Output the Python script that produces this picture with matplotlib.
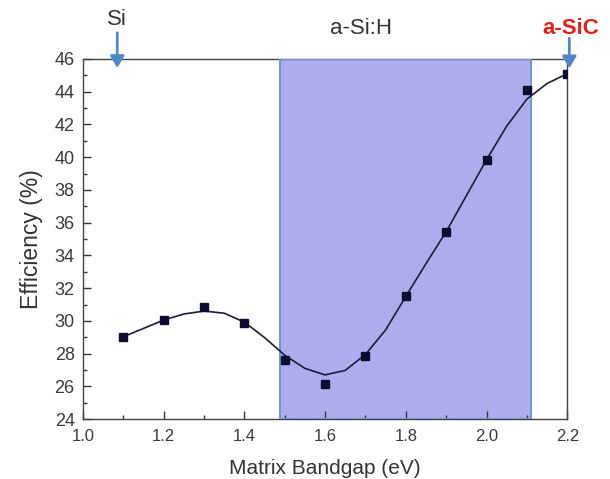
import matplotlib
matplotlib.use('Agg')
import matplotlib.pyplot as plt
from matplotlib.ticker import MultipleLocator

plt.rcParams['font.family'] = ['Liberation Sans', 'DejaVu Sans']

# measured points
bandgap = [1.1, 1.2, 1.3, 1.4, 1.5, 1.6, 1.7, 1.8, 1.9, 2.0, 2.1, 2.2]
efficiency = [29.0, 30.05, 30.85, 29.9, 27.6, 26.15, 27.85, 31.55, 35.45, 39.85, 44.1, 45.1]

# fitted curve
fit_x = [1.10, 1.15, 1.20, 1.25, 1.30, 1.35, 1.40, 1.45, 1.50, 1.55, 1.60, 1.65,
         1.70, 1.75, 1.80, 1.85, 1.90, 1.95, 2.00, 2.05, 2.10, 2.15, 2.20]
fit_y = [29.03, 29.54, 30.05, 30.42, 30.60, 30.47, 29.92, 28.98, 27.90, 27.10, 26.70, 26.98,
         27.95, 29.45, 31.50, 33.50, 35.45, 37.65, 39.85, 41.90, 43.55, 44.50, 45.10]

# a-Si:H band
band_lo, band_hi = 1.488, 2.11

fig = plt.figure(figsize=(6.10, 4.79), dpi=100)
ax = fig.add_axes([0.136, 0.125, 0.794, 0.752])

ax.axvspan(band_lo, band_hi, facecolor='#adadee', edgecolor='none', zorder=0)
ax.axvspan(band_lo, band_hi, facecolor='none', edgecolor='#7094d4', lw=1.4, zorder=3)
ax.plot(fit_x, fit_y, color='#1c1c38', lw=1.2, zorder=4, solid_joinstyle='round')
ax.plot(bandgap, efficiency, 's', color='#0c0c30', ms=6, zorder=5)

ax.set_xlim(1.0, 2.2)
ax.set_ylim(24, 46)
ax.xaxis.set_major_locator(MultipleLocator(0.2))
ax.xaxis.set_minor_locator(MultipleLocator(0.1))
ax.yaxis.set_major_locator(MultipleLocator(2))
ax.yaxis.set_minor_locator(MultipleLocator(1))
ax.xaxis.set_major_formatter(plt.FuncFormatter(lambda v, p: f'{v:.1f}'))
ax.tick_params(which='both', direction='in', top=False, right=False,
               labelcolor='#3a3a3a', color='#333333')
ax.tick_params(axis='x', labelsize=12, pad=7)
ax.tick_params(axis='y', labelsize=13, pad=6)
ax.tick_params(which='major', length=6, width=1)
ax.tick_params(which='minor', length=3, width=1)
for s in ax.spines.values():
    s.set_color('#444444')
    s.set_linewidth(1.0)

ax.set_xlabel('Matrix Bandgap (eV)', fontsize=15, color='#333333', labelpad=11)
ax.set_ylabel('Efficiency (%)', fontsize=16.5, color='#333333', labelpad=8)

arrow_kw = dict(arrowstyle='-|>,head_length=0.5,head_width=0.3', color='#5487c8',
                lw=2, mutation_scale=14, shrinkA=0, shrinkB=0)
ax.annotate('', xy=(1.085, 45.45), xytext=(1.085, 47.6), arrowprops=arrow_kw,
            annotation_clip=False)
ax.annotate('', xy=(2.205, 45.43), xytext=(2.205, 47.27), arrowprops=arrow_kw,
            annotation_clip=False)
ax.text(1.085, 48.4, 'Si', fontsize=16, color='#333333', ha='center', va='center',
        clip_on=False)
ax.text(1.69, 47.85, 'a-Si:H', fontsize=16, color='#333333', ha='center', va='center',
        clip_on=False)
ax.text(2.208, 47.85, 'a-SiC', fontsize=16, color='#e0201c', fontweight='bold',
        ha='center', va='center', clip_on=False)

fig.savefig('out.png', dpi=100)
